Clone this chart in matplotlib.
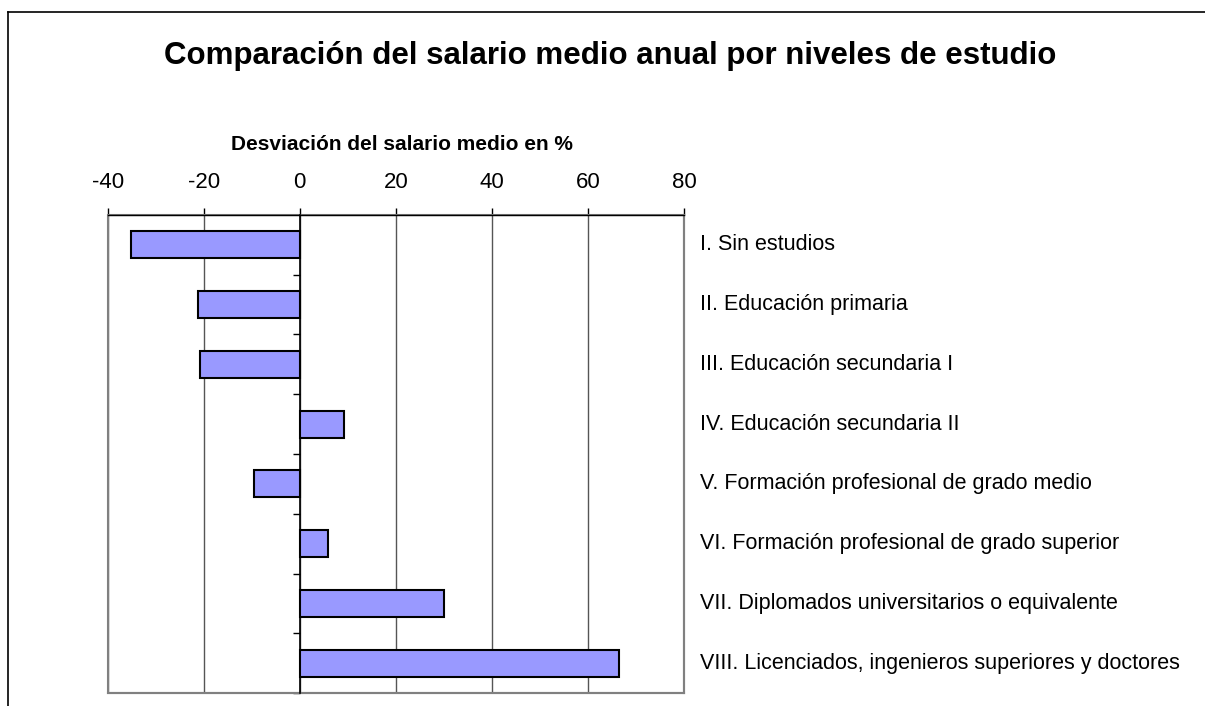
import matplotlib.pyplot as plt
import matplotlib.transforms as mtransforms
from matplotlib.lines import Line2D
from matplotlib.patches import Rectangle

plt.rcParams['font.family'] = ['Liberation Sans', 'DejaVu Sans']

categories = [
    "I. Sin estudios",
    "II. Educación primaria",
    "III. Educación secundaria I",
    "IV. Educación secundaria II",
    "V. Formación profesional de grado medio",
    "VI. Formación profesional de grado superior",
    "VII. Diplomados universitarios o equivalente",
    "VIII. Licenciados, ingenieros superiores y doctores",
]
desviacion = [-35.1, -21.2, -20.8, 9.2, -9.6, 5.9, 30.1, 66.4]
xticks = [-40, -20, 0, 20, 40, 60, 80]

fig = plt.figure(figsize=(12.05, 7.06), dpi=100)
ax = fig.add_axes([0.0894, 0.0184, 0.4782, 0.6771])

pos = list(range(len(categories)))
ax.barh(pos, desviacion, height=0.45, color="#9999FF", edgecolor="black",
        linewidth=1.5, zorder=3)

ax.set_xlim(-40, 80)
ax.set_ylim(len(categories) - 0.5, -0.5)

# x axis on top
ax.xaxis.tick_top()
ax.set_xticks(xticks)
ax.set_xticklabels([str(t) for t in xticks], fontsize=16)
ax.tick_params(axis="x", direction="out", length=5, width=1, color="black", pad=11)
ax.grid(axis="x", color="#555555", linewidth=1, zorder=1)

# y axis line at 0 with ticks between categories
ax.spines["left"].set_position(("data", 0))
ax.spines["left"].set_color("black")
ax.spines["left"].set_linewidth(1.2)
ax.spines["left"].set_zorder(4)
ax.set_yticks([p + 0.5 for p in pos])
ax.set_yticklabels([])
ax.tick_params(axis="y", direction="out", length=5, width=1, color="black")

ax.spines["top"].set_color("black")
ax.spines["top"].set_linewidth(1)
for s in ["right", "bottom"]:
    ax.spines[s].set_color("#808080")
    ax.spines[s].set_linewidth(1.5)

# plot frame left side
ax.add_patch(Rectangle((0, 0), 1, 1, transform=ax.transAxes, fill=False,
                       edgecolor="#808080", linewidth=1.5, zorder=2, clip_on=False))

# category labels to the right of the plot
trans = mtransforms.blended_transform_factory(ax.transAxes, ax.transData)
for p, lab in zip(pos, categories):
    ax.text(1.028, p, lab, transform=trans, ha="left", va="center", fontsize=15.5)

ax.set_title("Desviación del salario medio en %", fontsize=15, fontweight="bold",
             x=0.51, pad=47)

fig.text(0.506, 0.921, "Comparación del salario medio anual por niveles de estudio",
         ha="center", va="center", fontsize=22.5, fontweight="bold")

# outer chart border (top and left)
fig.add_artist(Line2D([8 / 1205, 1], [1 - 11.5 / 706, 1 - 11.5 / 706],
                      transform=fig.transFigure, color="black", linewidth=1.2))
fig.add_artist(Line2D([8 / 1205, 8 / 1205], [0, 1 - 11.5 / 706],
                      transform=fig.transFigure, color="black", linewidth=1.2))

fig.savefig("out.png", dpi=100)
